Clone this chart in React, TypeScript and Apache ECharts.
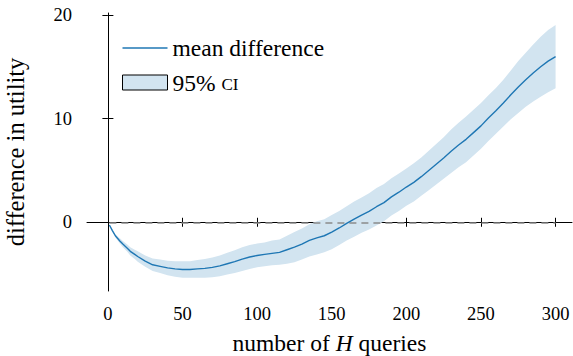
import React, { useEffect, useRef } from "react";
import * as echarts from "echarts";

const xValues = [1, 3, 5, 8, 10, 13, 15, 18, 20, 25, 30, 35, 40, 45, 50, 55, 60, 65, 70, 75, 80, 85, 90, 95, 100, 105, 110, 115, 120, 125, 130, 135, 140, 145, 150, 155, 160, 165, 170, 175, 180, 185, 190, 195, 200, 205, 210, 215, 220, 225, 230, 235, 240, 245, 250, 255, 260, 265, 270, 275, 280, 285, 290, 295, 300];
const meanDiff = [-0.26, -0.8, -1.3, -1.8, -2.1, -2.5, -2.8, -3.1, -3.3, -3.75, -4.1, -4.25, -4.4, -4.5, -4.55, -4.55, -4.5, -4.45, -4.35, -4.2, -4.0, -3.8, -3.55, -3.35, -3.2, -3.1, -3.0, -2.9, -2.65, -2.4, -2.1, -1.75, -1.5, -1.3, -0.95, -0.55, -0.1, 0.3, 0.7, 1.05, 1.5, 1.9, 2.45, 2.9, 3.4, 3.85, 4.4, 5.0, 5.6, 6.2, 6.85, 7.45, 8.0, 8.65, 9.3, 10.05, 10.75, 11.5, 12.3, 13.05, 13.75, 14.4, 15.0, 15.55, 15.98];
const ciLower = [-0.31, -0.9, -1.45, -2.05, -2.4, -2.85, -3.2, -3.55, -3.8, -4.3, -4.7, -4.9, -5.1, -5.25, -5.35, -5.35, -5.35, -5.35, -5.3, -5.2, -5.05, -4.9, -4.7, -4.5, -4.35, -4.25, -4.15, -4.1, -4.0, -3.85, -3.6, -3.3, -3.1, -2.9, -2.6, -2.2, -1.75, -1.4, -1.0, -0.7, -0.3, 0.1, 0.65, 1.1, 1.6, 2.0, 2.55, 3.1, 3.65, 4.2, 4.75, 5.3, 5.8, 6.45, 7.1, 7.85, 8.55, 9.25, 9.95, 10.55, 11.15, 11.65, 12.1, 12.55, 12.93];
const ciUpper = [-0.21, -0.7, -1.15, -1.55, -1.8, -2.15, -2.4, -2.65, -2.8, -3.2, -3.5, -3.6, -3.7, -3.75, -3.75, -3.75, -3.65, -3.55, -3.4, -3.2, -2.95, -2.7, -2.4, -2.2, -2.05, -1.95, -1.75, -1.65, -1.3, -0.95, -0.6, -0.2, 0.1, 0.3, 0.7, 1.1, 1.55, 2.0, 2.4, 2.8, 3.3, 3.7, 4.25, 4.7, 5.2, 5.7, 6.25, 6.9, 7.55, 8.2, 8.95, 9.6, 10.2, 10.85, 11.5, 12.25, 12.95, 13.75, 14.65, 15.55, 16.35, 17.15, 17.9, 18.55, 19.03];
const xTicks = [0, 50, 100, 150, 200, 250, 300];
const yTicks = [0, 10, 20];
const zeroLevel = 0;

const FONT = "Liberation Serif";
const LINE_COLOR = "#1f77b4";
const BAND_COLOR = "#d2e4f0";

export default function App() {
  const ref = useRef<HTMLDivElement>(null);
  useEffect(() => {
    const chart = echarts.init(ref.current!, null, { renderer: "svg" });
    const meanData = xValues.map((x, i) => [x, meanDiff[i]]);
    const bandData = xValues.map((x, i) => [x, ciLower[i], ciUpper[i]]);
    const xMin = -14, xMax = 311, yMin = -6.63, yMax = 20.19;
    const axisCommon = { type: "value", splitLine: { show: false } };
    chart.setOption({
      animation: false,
      backgroundColor: "#fff",
      textStyle: { fontFamily: FONT },
      grid: { left: 87, right: 1, top: 13, bottom: 65, containLabel: false, outerBoundsMode: "none" },
      legend: {
        left: 122,
        top: 36,
        padding: 0,
        orient: "vertical",
        itemWidth: 45,
        itemHeight: 15,
        itemGap: 10.5,
        symbolKeepAspect: true,
        selectedMode: false,
        textStyle: {
          fontFamily: FONT,
          fontSize: 23.5,
          color: "#000",
          rich: {
            sc: { fontFamily: FONT, fontSize: 17, padding: [4, 0, 0, 0], color: "#000" },
          },
        },
        formatter: (name: string) => (name === "95% CI" ? "95% {sc|CI}" : name),
        data: [
          { name: "mean difference", icon: "path://M0,0 H45 V1.5 H0 Z", itemStyle: { color: LINE_COLOR } },
          { name: "95% CI", icon: "rect", itemStyle: { color: BAND_COLOR, borderColor: "#000", borderWidth: 1 } },
        ],
      },
      xAxis: [
        {
          ...axisCommon,
          min: xMin,
          max: xMax,
          position: "bottom",
          axisLine: { show: true, lineStyle: { color: "#000", width: 1 } },
          axisTick: { show: true, length: 4.5, customValues: xTicks, lineStyle: { color: "#000" } },
          axisLabel: { customValues: xTicks, margin: 13, fontFamily: FONT, fontSize: 18.5, color: "#000" },
          name: "number of {i|H} queries",
          nameLocation: "middle",
          nameGap: 40,
          nameTextStyle: {
            fontFamily: FONT,
            fontSize: 23.5,
            color: "#000",
            rich: { i: { fontFamily: FONT, fontSize: 23.5, fontStyle: "italic", color: "#000" } },
          },
        },
        {
          ...axisCommon,
          min: xMin,
          max: xMax,
          position: "bottom",
          axisLine: { show: false },
          axisTick: { show: true, inside: true, length: 4.5, customValues: xTicks, lineStyle: { color: "#000" } },
          axisLabel: { show: false },
        },
      ],
      yAxis: [
        {
          ...axisCommon,
          min: yMin,
          max: yMax,
          position: "left",
          axisLine: { show: true, lineStyle: { color: "#000", width: 1 } },
          axisTick: { show: true, length: 5.5, customValues: yTicks, lineStyle: { color: "#000" } },
          axisLabel: { customValues: yTicks, margin: 15, fontFamily: FONT, fontSize: 18.5, color: "#000" },
          name: "difference in utility",
          nameLocation: "middle",
          nameGap: 59,
          nameRotate: 90,
          nameTextStyle: { fontFamily: FONT, fontSize: 24.5, color: "#000" },
        },
        {
          ...axisCommon,
          min: yMin,
          max: yMax,
          position: "left",
          axisLine: { show: false },
          axisTick: { show: true, inside: true, length: 5.5, customValues: yTicks, lineStyle: { color: "#000" } },
          axisLabel: { show: false },
        },
      ],
      series: [
        {
          name: "95% CI",
          type: "custom",
          data: bandData,
          silent: true,
          color: BAND_COLOR,
          encode: { x: 0, y: [1, 2] },
          z: 1,
          renderItem: (params: any, api: any) => {
            if (params.dataIndex !== 0) return null;
            const pts: number[][] = [];
            for (let i = 0; i < xValues.length; i++) pts.push(api.coord([xValues[i], ciUpper[i]]));
            for (let i = xValues.length - 1; i >= 0; i--) pts.push(api.coord([xValues[i], ciLower[i]]));
            return { type: "polygon", shape: { points: pts }, style: { fill: BAND_COLOR, stroke: "none" } };
          },
        },
        {
          name: "mean difference",
          type: "line",
          data: meanData,
          symbol: "none",
          color: LINE_COLOR,
          lineStyle: { color: LINE_COLOR, width: 1.4 },
          z: 3,
          markLine: {
            silent: true,
            symbol: "none",
            z: 2,
            label: { show: false },
            lineStyle: { color: "#8a8a8a", type: [7, 5], width: 1.5, opacity: 1 },
            data: [[{ coord: [xValues[0], zeroLevel] }, { coord: [xValues[xValues.length - 1], zeroLevel] }]],
          },
        },
        {
          name: "tick-helper",
          type: "line",
          xAxisIndex: 1,
          yAxisIndex: 1,
          data: [],
          silent: true,
          symbol: "none",
        },
      ],
    });
    return () => chart.dispose();
  }, []);
  return <div ref={ref} style={{ position: "fixed", left: 0, top: 0, width: 573, height: 356 }} />;
}
